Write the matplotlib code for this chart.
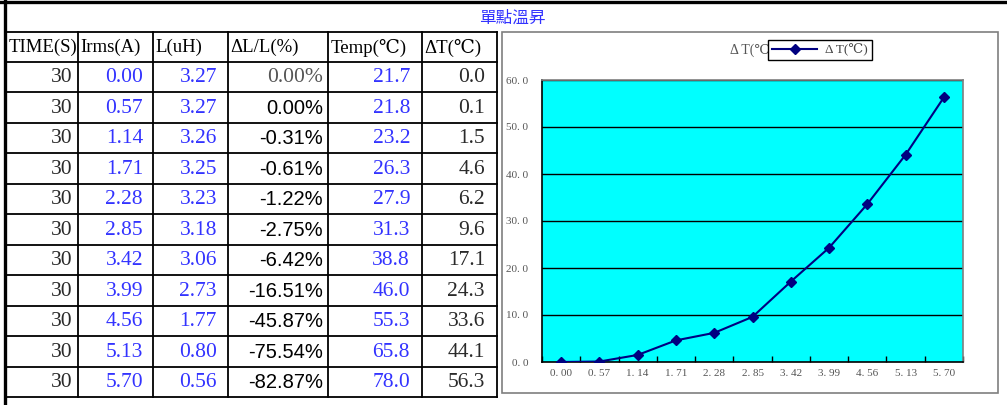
import matplotlib
matplotlib.use("Agg")
import matplotlib.pyplot as plt
from matplotlib.patches import Rectangle

# table data
headers = ["TIME(S)", "Irms(A)", "L(uH)", "ΔL/L(%)", "Temp(℃)", "ΔT(℃)"]
time_s = [30, 30, 30, 30, 30, 30, 30, 30, 30, 30, 30]
irms = [0.00, 0.57, 1.14, 1.71, 2.28, 2.85, 3.42, 3.99, 4.56, 5.13, 5.70]
ind = [3.27, 3.27, 3.26, 3.25, 3.23, 3.18, 3.06, 2.73, 1.77, 0.80, 0.56]
dl_pct = ["0.00%", "0.00%", "-0.31%", "-0.61%", "-1.22%", "-2.75%",
          "-6.42%", "-16.51%", "-45.87%", "-75.54%", "-82.87%"]
temp = [21.7, 21.8, 23.2, 26.3, 27.9, 31.3, 38.8, 46.0, 55.3, 65.8, 78.0]
dtemp = [0.0, 0.1, 1.5, 4.6, 6.2, 9.6, 17.1, 24.3, 33.6, 44.1, 56.3]

title = "單點溫昇"
series_name = "ΔT(℃)"

W, H = 1007, 405
fig = plt.figure(figsize=(W / 100, H / 100), dpi=100)
fig.patch.set_facecolor("white")

# pixel overlay for the sheet part
bg = fig.add_axes([0, 0, 1, 1])
bg.set_xlim(0, W)
bg.set_ylim(H, 0)
bg.axis("off")

serif = ["Liberation Serif", "DejaVu Serif", "Noto Sans CJK TC"]
sans = ["Liberation Sans", "DejaVu Sans"]
blue = "#3333ff"
dark = "#2a2a2a"

# outer sheet borders
bg.plot([0, W], [1.5, 1.5], color="black", lw=2.4)
bg.plot([4.5, 4.5], [0, H], color="black", lw=2.4)

bg.text(512, 18, title, color=blue, fontsize=12, ha="center", va="center",
        family=["Noto Sans CJK TC"])

cols = [6, 78, 153, 228, 328, 422, 497]
top = 32
head_h = 29.5
row_h = 30.5
nrows = len(irms)
bottom = top + head_h + nrows * row_h

# grid
for x in cols:
    bg.plot([x, x], [top, bottom], color="black", lw=1.3)
ys = [top, top + head_h] + [top + head_h + (i + 1) * row_h for i in range(nrows)]
for y in ys:
    bg.plot([cols[0], cols[-1]], [y, y], color="black", lw=1.3)

for j, h in enumerate(headers):
    bg.text(cols[j] + 2.5, top + head_h / 2 + 1, h, fontsize=13.5, color="black",
            ha="left", va="center", family=serif)

pads = [5, 10, 11, 5, 12, 12]
for i in range(nrows):
    yc = top + head_h + i * row_h + row_h / 2 + 1
    cells = [
        (str(time_s[i]), dark, serif),
        (f"{irms[i]:.2f}", blue, serif),
        (f"{ind[i]:.2f}", blue, serif),
        (dl_pct[i], "black", sans if i > 0 else serif),
        (f"{temp[i]:.1f}", blue, serif),
        (f"{dtemp[i]:.1f}", dark, serif),
    ]
    for j, (txt, c, fam) in enumerate(cells):
        fs = 14.5 if fam is sans else 15.5
        col = c if not (j == 3 and i == 0) else "#555555"
        bg.text(cols[j + 1] - pads[j], yc, txt, fontsize=fs, color=col,
                ha="right", va="center", family=fam)

# chart frame
bg.add_patch(Rectangle((502, 32), 496, 361, facecolor="white",
                       edgecolor="#7f7f7f", lw=1.2))
bg.text(752, 50, series_name.replace("Δ", "Δ "), fontsize=10, color="#555555",
        ha="center", va="center", family=serif)

# chart
ax = fig.add_axes([542 / W, 1 - 362 / H, 421 / W, 282 / H])
ax.set_facecolor("#00ffff")
xi = list(range(len(irms)))
line, = ax.plot(xi, dtemp, color="#000080", lw=1.5, marker="D", ms=5.5,
                label=series_name, zorder=3)
ax.set_xlim(-0.5, len(irms) - 0.5)
ax.set_ylim(0, 60)
ax.set_yticks(range(0, 61, 10))
ax.set_yticklabels([f"{v}. 0" for v in range(0, 61, 10)], family=serif,
                   fontsize=8, color="#555555")
ax.tick_params(axis="y", length=0, pad=10)
for v in range(10, 61, 10):
    ax.axhline(v, color="black", lw=1.0, zorder=1)
ax.set_xticks([k - 0.5 for k in range(len(irms) + 1)])
ax.set_xticklabels([])
ax.tick_params(axis="x", which="major", direction="in", length=4,
               color="black", width=1)
ax.set_xticks(xi, minor=True)
ax.set_xticklabels([f"{v:.2f}".replace(".", ". ") for v in irms], minor=True,
                   family=serif, fontsize=8, color="#555555")
ax.tick_params(axis="x", which="minor", length=0, pad=5)
for s in ["top", "right"]:
    ax.spines[s].set_color("#7f7f7f")
    ax.spines[s].set_linewidth(1.2)
for s in ["left", "bottom"]:
    ax.spines[s].set_color("black")
    ax.spines[s].set_linewidth(1.2)

leg = ax.legend(handles=[line], labels=[series_name.replace("Δ", "Δ ")],
                loc="center", bbox_to_anchor=(820, 50),
                bbox_transform=bg.transData, fancybox=False, framealpha=1,
                edgecolor="black", handlelength=3.4, borderpad=0.3,
                handletextpad=0.6, prop={"family": serif, "size": 9.5})
leg.get_frame().set_linewidth(1.0)
for t in leg.get_texts():
    t.set_color("#444444")

fig.savefig("out.png", dpi=100)
